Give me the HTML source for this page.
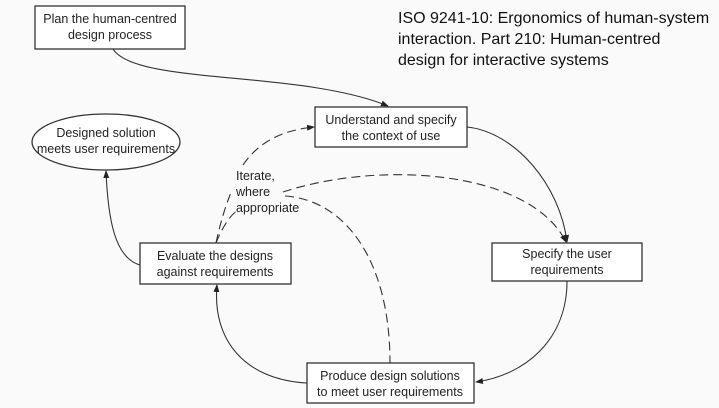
<!DOCTYPE html>
<html><head><meta charset="utf-8"><style>
html,body{margin:0;padding:0;background:#fafafa;}
svg{display:block;}
text{font-family:"Liberation Sans",Arial,sans-serif;font-size:12.5px;fill:#222;}
.t{font-family:"Liberation Sans",sans-serif;font-size:16px;fill:#111;}
</style></head><body>
<svg width="719" height="408" viewBox="0 0 719 408" xmlns="http://www.w3.org/2000/svg">
<defs><marker id="a" markerWidth="8" markerHeight="8" refX="7" refY="4" orient="auto" markerUnits="userSpaceOnUse"><path d="M0,1 L8,4 L0,7 z" fill="#222"/></marker></defs>
<rect width="719" height="408" fill="#fafafa"/>
<g fill="#fff" stroke="#333" stroke-width="1.3">
<rect x="35" y="6" width="150" height="43"/>
<ellipse cx="106" cy="142" rx="74" ry="28"/>
<rect x="315" y="107" width="152" height="40"/>
<rect x="492" y="243" width="150" height="38"/>
<rect x="307" y="363" width="167" height="40"/>
<rect x="140" y="243" width="151" height="41"/>
</g>
<g fill="none" stroke="#333" stroke-width="1.1">
<path d="M113,49 C135,85 300,70 388,106" marker-end="url(#a)"/>
<path d="M467,127 C515,132 560,185 567,242" marker-end="url(#a)"/>
<path d="M567,281 C567,340 525,375 476,382" marker-end="url(#a)"/>
<path d="M307,383 C245,380 212,340 217,285" marker-end="url(#a)"/>
<path d="M140,265 C115,258 108,220 106,171" marker-end="url(#a)"/>
</g>
<g fill="none" stroke="#333" stroke-width="1.1" stroke-dasharray="9,5">
<path d="M216,243 C222,215 228,200 232,190"/>
<path d="M243,165 C260,140 285,130 314,127" marker-end="url(#a)"/>
<path d="M216,243 C222,228 230,215 238,210"/>
<path d="M283,192 C380,160 530,170 566,242" marker-end="url(#a)"/>
<path d="M285,196 C345,200 390,260 390,363"/>
</g>
<g text-anchor="middle">
<text x="110" y="23">Plan the human-centred</text>
<text x="110" y="39">design process</text>
<text x="106" y="137">Designed solution</text>
<text x="106" y="153">meets user requirements</text>
<text x="391" y="124">Understand and specify</text>
<text x="391" y="140">the context of use</text>
<text x="567" y="258">Specify the user</text>
<text x="567" y="274">requirements</text>
<text x="390" y="380">Produce design solutions</text>
<text x="390" y="396">to meet user requirements</text>
<text x="215" y="260">Evaluate the designs</text>
<text x="215" y="276">against requirements</text>
</g>
<text x="236" y="180">Iterate,</text>
<text x="236" y="196">where</text>
<text x="236" y="212">appropriate</text>
<text class="t" x="398" y="23">ISO 9241-10: Ergonomics of human-system</text>
<text class="t" x="398" y="44">interaction. Part 210: Human-centred</text>
<text class="t" x="398" y="65">design for interactive systems</text>
</svg>
</body></html>
